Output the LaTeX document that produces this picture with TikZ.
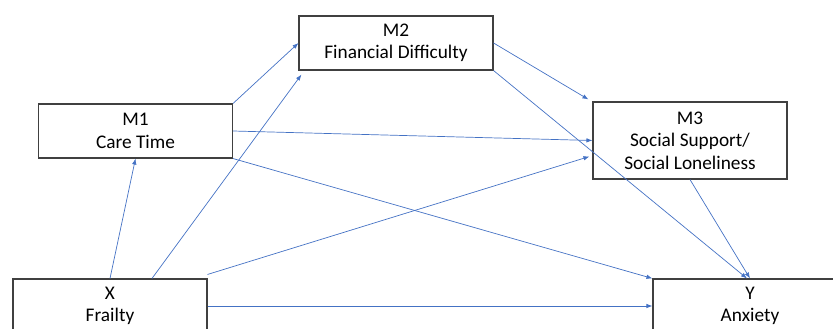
\documentclass[tikz,border=0pt]{standalone}
\usepackage{fontspec}
\setmainfont{Carlito}
\usetikzlibrary{arrows.meta}
\definecolor{linkblue}{HTML}{4472C4}
\definecolor{boxgray}{HTML}{404040}

\begin{document}
\begin{tikzpicture}[x=1pt, y=-1pt,
    box/.style={draw=boxgray, line width=1.1pt, fill=white, minimum width=194pt, minimum height=54pt,
        align=center, inner sep=0pt, font=\fontsize{19.3}{22.5}\selectfont},
    link/.style={draw=linkblue, line width=0.7pt, -{Latex[length=6pt,width=4.5pt]}}]
    \useasboundingbox (0,0) rectangle (833,329);
    \clip (0,0) rectangle (833,329);

    \node[box] (M1) at (135.5,131) {M1\\Care Time};
    \node[box] (M2) at (396,43) {M2\\Financial Difficulty};
    \node[box, minimum height=77pt] (M3) at (690,140.5) {M3\\Social Support/\\Social Loneliness};
    \node[box] (X) at (110,306) {X\\Frailty};
    \node[box] (Y) at (750,306) {Y\\Anxiety};

    \draw[link] (X.north) -- (M1.south);
    \draw[link] ([xshift=42pt]X.north) -- ([xshift=3pt,yshift=-4pt]M2.south west);
    \draw[link] (M1.north east) -- (M2.west);
    \draw[link] (M1.east) -- (M3.west);
    \draw[link] (M1.south east) -- (Y.north west);
    \draw[link] ([yshift=4pt]X.north east) -- ([xshift=-3pt,yshift=-16pt]M3.west);
    \draw[link] (X.east) -- (Y.west);
    \draw[link] (M2.east) -- ([xshift=-4pt,yshift=2pt]M3.north west);
    \draw[link] (M2.south east) -- ([xshift=-3pt]Y.north);
    \draw[link] (M3.south) -- (Y.north);
\end{tikzpicture}
\end{document}
